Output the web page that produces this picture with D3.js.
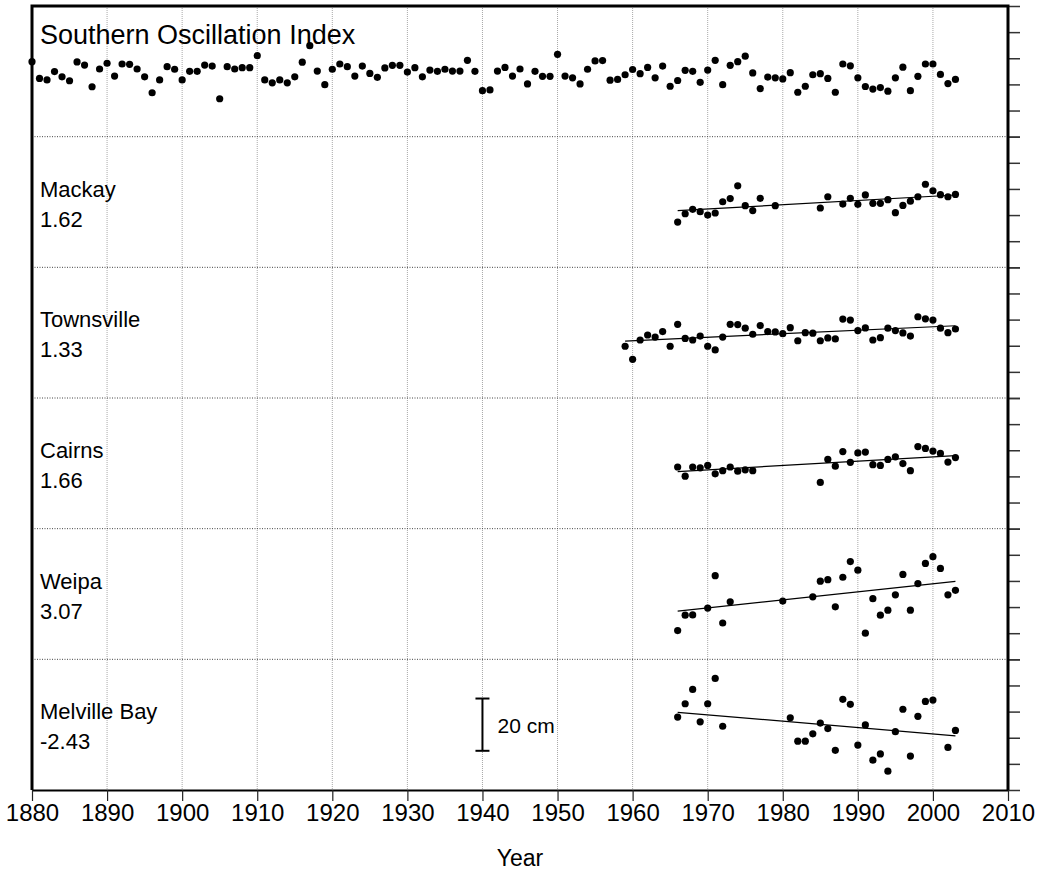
<!DOCTYPE html>
<html>
<head>
<meta charset="utf-8">
<script src="https://cdn.jsdelivr.net/npm/d3@7"></script>
<style>
  body { margin: 0; background: #fff; }
  text { font-family: "Liberation Sans", Arial, sans-serif; fill: #000; }
</style>
</head>
<body>
<svg id="chart" width="1039" height="875"></svg>
<script>
// Southern Oscillation Index, annual values 1880-2003
const soiFirstYear = 1880;
const soiValues = [
  3.7, -2.7, -3.3, -0.1, -2.1, -3.6, 3.6, 2.4, -5.9, 0.9,
  3.1, -1.8, 2.8, 2.7, 0.9, -2.1, -8.2, -3.3, 1.8, 0.8,
  -3.3, 0.0, 0.0, 2.4, 2.0, -10.5, 1.8, 0.9, 1.4, 1.4,
  6.0, -3.3, -4.4, -3.3, -4.4, -2.1, 3.5, 9.8, 0.1, -5.1,
  0.8, 2.8, 1.8, -1.8, 2.0, -0.8, -2.3, 1.3, 2.3, 2.3,
  -0.3, 1.4, -2.1, 0.5, 0.0, 0.8, 0.1, 0.1, 4.2, 0.0,
  -7.4, -7.1, 0.1, 1.5, -1.8, 0.9, -4.8, 0.0, -1.9, -1.9,
  6.5, -1.8, -2.5, -4.8, 0.8, 4.0, 4.1, -3.4, -3.1, -1.3,
  0.7, -0.9, 1.5, -2.5, 2.0, -5.7, -3.5, 0.4, 0.0, -4.2,
  0.5, 4.2, -5.1, 2.3, 3.7, 5.8, -0.6, -6.6, -2.2, -2.5,
  -2.9, -0.5, -8.0, -5.7, -1.3, -0.9, -2.7, -8.0, 2.8, 2.1,
  -2.5, -5.8, -6.8, -6.2, -7.6, -2.5, 1.6, -7.4, -1.9, 2.8,
  2.8, -1.2, -4.7, -3.1
];

// annual mean sea level anomalies (cm)
const mackayYears = [1966, 1967, 1968, 1969, 1970, 1971, 1972, 1973, 1974, 1975, 1976, 1977, 1979,
  1985, 1986, 1988, 1989, 1990, 1991, 1992, 1993, 1994, 1995, 1996, 1997, 1998, 1999, 2000, 2001, 2002, 2003];
const mackayLevels = [-7.7, -4.5, -2.8, -3.7, -5.0, -4.2, 0.1, 1.3, 6.2, -1.4, -3.3, 1.4, -1.4,
  -2.3, 2.0, -0.8, 1.4, -0.9, 2.7, -0.5, -0.5, 0.9, -4.1, -1.3, 0.3, 2.0, 6.8, 4.3, 2.8, 2.0, 2.9];

const townsvilleYears = [1959, 1960, 1961, 1962, 1963, 1964, 1965, 1966, 1967, 1968, 1969, 1970, 1971,
  1972, 1973, 1974, 1975, 1976, 1977, 1978, 1979, 1980, 1981, 1982, 1983, 1984, 1985, 1986, 1987,
  1988, 1989, 1990, 1991, 1992, 1993, 1994, 1995, 1996, 1997, 1998, 1999, 2000, 2001, 2002, 2003];
const townsvilleLevels = [-5.2, -10.2, -2.8, -0.9, -1.7, 0.4, -5.2, 3.2, -2.2, -2.8, -1.3, -5.2, -6.6,
  -1.7, 3.2, 3.1, 1.7, -0.6, 2.7, 0.4, 0.3, -0.4, 1.9, -3.1, 0.0, -0.2, -3.1, -2.0, -2.4,
  5.2, 4.8, 0.8, 1.8, -2.8, -1.9, 1.7, 0.8, -0.1, -1.3, 6.1, 5.3, 4.8, 1.7, 0.0, 1.4];

const cairnsYears = [1966, 1967, 1968, 1969, 1970, 1971, 1972, 1973, 1974, 1975, 1976,
  1985, 1986, 1987, 1988, 1989, 1990, 1991, 1992, 1993, 1994, 1995, 1996, 1997, 1998, 1999, 2000, 2001, 2002, 2003];
const cairnsLevels = [-1.4, -4.9, -1.4, -1.7, -0.8, -4.0, -2.8, -1.4, -3.0, -2.5, -2.8,
  -7.3, 1.5, -1.1, 4.5, 0.4, 4.0, 4.3, -0.5, -0.8, 1.5, 2.5, -0.1, -2.8, 6.4, 5.7, 4.7, 3.8, 0.5, 2.2];

const weipaYears = [1966, 1967, 1968, 1970, 1971, 1972, 1973, 1980, 1984, 1985, 1986, 1987, 1988,
  1989, 1990, 1991, 1992, 1993, 1994, 1995, 1996, 1997, 1998, 1999, 2000, 2001, 2002, 2003];
const weipaLevels = [-14.0, -8.1, -8.0, -5.4, 7.0, -11.1, -3.0, -2.7, -1.1, 4.9, 5.5, -4.9, 6.4,
  12.4, 9.1, -15.0, -1.8, -8.1, -6.2, -0.3, 7.5, -6.2, 4.0, 11.7, 14.3, 9.8, -0.3, 1.4];

const melvilleYears = [1966, 1967, 1968, 1969, 1970, 1971, 1972, 1981, 1982, 1983, 1984, 1985, 1986,
  1987, 1988, 1989, 1990, 1991, 1992, 1993, 1994, 1995, 1996, 1997, 1998, 1999, 2000, 2002, 2003];
const melvilleLevels = [2.9, 8.0, 13.5, 1.1, 8.0, 17.7, -0.6, 2.6, -6.3, -6.3, -3.5, 0.6, -1.5,
  -9.8, 9.7, 7.8, -7.8, -0.1, -13.6, -11.2, -17.8, -2.7, 5.9, -12.0, 3.2, 8.9, 9.4, -8.7, -2.2];

// panel labels and linear trends (mm/yr)
const panelNames = ["Southern Oscillation Index", "Mackay", "Townsville", "Cairns", "Weipa", "Melville Bay"];
const trendRates = [null, 1.62, 1.33, 1.66, 3.07, -2.43];
const decadeTicks = [1880, 1890, 1900, 1910, 1920, 1930, 1940, 1950, 1960, 1970, 1980, 1990, 2000, 2010];
const scaleBarYear = 1940;
const scaleBarLength = 20; // cm

const series = [
  { years: soiValues.map((d, i) => soiFirstYear + i), values: soiValues },
  { years: mackayYears, values: mackayLevels },
  { years: townsvilleYears, values: townsvilleLevels },
  { years: cairnsYears, values: cairnsLevels },
  { years: weipaYears, values: weipaLevels },
  { years: melvilleYears, values: melvilleLevels }
];

const svg = d3.select('#chart');
const plotLeft = 32, plotRight = 1008, plotTop = 6, plotBottom = 790;

const x = d3.scaleLinear().domain([1880, 2010]).range([plotLeft, plotRight]);
const band = d3.scaleBand().domain(d3.range(panelNames.length)).range([plotTop, plotBottom]);
const panelH = band.bandwidth();

// vertical grid lines
svg.append('g')
  .selectAll('line')
  .data(decadeTicks.slice(1, -1))
  .join('line')
  .attr('x1', d => x(d)).attr('x2', d => x(d))
  .attr('y1', plotTop).attr('y2', plotBottom)
  .attr('stroke', '#a8a8a8')
  .attr('stroke-width', 1)
  .attr('stroke-dasharray', '1,1');

// separators between panels
svg.append('g')
  .selectAll('line')
  .data(d3.range(1, panelNames.length))
  .join('line')
  .attr('x1', plotLeft).attr('x2', plotRight)
  .attr('y1', d => band(d)).attr('y2', d => band(d))
  .attr('stroke', '#444')
  .attr('stroke-width', 1)
  .attr('stroke-dasharray', '1,1.5');

series.forEach((s, i) => {
  const y0 = band(i);
  const y = d3.scaleLinear().domain([-25, 25]).range([y0 + panelH, y0]);
  const g = svg.append('g');

  // right-hand ticks
  const ax = g.append('g')
    .attr('transform', `translate(${plotRight},0)`)
    .call(d3.axisRight(y).tickValues([-25, -15, -5, 5, 15, 25]).tickSize(12).tickFormat(''));
  ax.select('.domain').remove();
  ax.selectAll('line').attr('stroke', '#333').attr('stroke-width', 1.5);

  // trend line through the mean point
  const rate = trendRates[i];
  if (rate !== null) {
    const my = d3.mean(s.years), mv = d3.mean(s.values);
    const slope = rate / 10;
    const y1 = d3.min(s.years), y2 = d3.max(s.years);
    g.append('line')
      .attr('x1', x(y1)).attr('x2', x(y2))
      .attr('y1', y(mv + slope * (y1 - my)))
      .attr('y2', y(mv + slope * (y2 - my)))
      .attr('stroke', '#000')
      .attr('stroke-width', 1.2);
  }

  g.selectAll('circle')
    .data(s.values)
    .join('circle')
    .attr('cx', (d, j) => x(s.years[j]))
    .attr('cy', d => y(d))
    .attr('r', 3.6)
    .attr('fill', '#000');

  // labels
  if (rate === null) {
    g.append('text')
      .attr('x', 40).attr('y', y0 + 38)
      .attr('font-size', 27)
      .text(panelNames[i]);
  } else {
    g.append('text')
      .attr('x', 40).attr('y', y0 + 60)
      .attr('font-size', 22)
      .text(panelNames[i]);
    g.append('text')
      .attr('x', 40).attr('y', y0 + 90)
      .attr('font-size', 22)
      .text(rate.toFixed(2));
  }

  // 20 cm scale bar in the last panel
  if (i === series.length - 1) {
    const bx = x(scaleBarYear);
    const b1 = y(scaleBarLength / 2), b2 = y(-scaleBarLength / 2);
    const sb = g.append('g').attr('stroke', '#000').attr('stroke-width', 2);
    sb.append('line').attr('x1', bx).attr('x2', bx).attr('y1', b1).attr('y2', b2);
    sb.append('line').attr('x1', bx - 7).attr('x2', bx + 7).attr('y1', b1).attr('y2', b1);
    sb.append('line').attr('x1', bx - 7).attr('x2', bx + 7).attr('y1', b2).attr('y2', b2);
    g.append('text')
      .attr('x', bx + 15).attr('y', y(0) + 8)
      .attr('font-size', 21)
      .text(scaleBarLength + ' cm');
  }
});

// bottom axis
const xAxis = svg.append('g')
  .attr('transform', `translate(0,${plotBottom})`)
  .call(d3.axisBottom(x).tickValues(decadeTicks).tickSize(11).tickSizeOuter(0).tickPadding(3).tickFormat(d3.format('d')));
xAxis.select('.domain').attr('stroke-width', 2);
xAxis.selectAll('.tick line').attr('stroke', '#222').attr('stroke-width', 1.2);
xAxis.selectAll('text')
  .attr('font-family', '"Liberation Sans Narrow", "Arial Narrow", sans-serif')
  .attr('font-size', 24)
  .attr('fill', '#000');

// frame
svg.append('path')
  .attr('d', `M${plotLeft},${plotBottom}V${plotTop}H${plotRight}V${plotBottom}`)
  .attr('fill', 'none')
  .attr('stroke', '#000')
  .attr('stroke-width', 3);

svg.append('text')
  .attr('x', (plotLeft + plotRight) / 2)
  .attr('y', 866)
  .attr('text-anchor', 'middle')
  .attr('font-size', 23)
  .text('Year');
</script>
</body>
</html>
